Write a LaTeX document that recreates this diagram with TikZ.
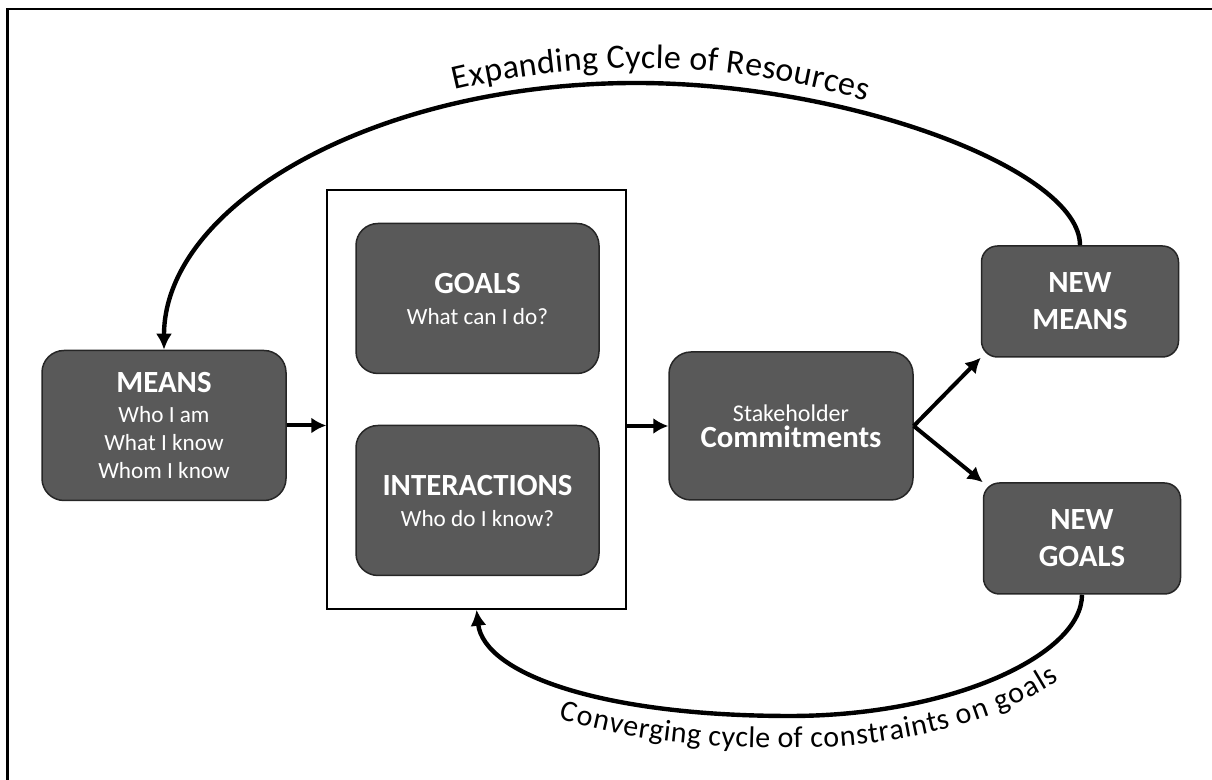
\documentclass[tikz,border=0pt]{standalone}
\usepackage{fontspec}
\setmainfont{Carlito}
\usetikzlibrary{arrows.meta,decorations.text}
\definecolor{boxgray}{HTML}{595959}
\definecolor{boxline}{HTML}{262626}
\newcommand{\boxtitle}[1]{{\fontsize{15.4}{18.5}\selectfont\bfseries #1}}
\newcommand{\arcfont}{\fontsize{17}{20}\selectfont}
\newcommand{\lowarcfont}{\fontsize{15}{18}\selectfont}
\tikzset{
  darkbox/.style={draw=boxline, line width=0.75pt, fill=boxgray, text=white,
    rounded corners=11pt, align=center, inner sep=0pt,
    minimum width=122pt, minimum height=75pt, font=\fontsize{11.6}{14}\selectfont},
  newbox/.style={darkbox, rounded corners=8pt, minimum width=98.5pt,
    minimum height=55.5pt, font=\fontsize{15.4}{18.5}\selectfont\bfseries},
  link/.style={line width=2pt, -{Latex[length=7.5pt,width=8pt]}},
  loopline/.style={line width=2.2pt, -{Latex[length=8pt,width=8pt]}},
}
\begin{document}
\begin{tikzpicture}[x=0.5pt,y=0.5pt]
  \useasboundingbox (0,0) rectangle (1212,780);
  \draw[line width=1.25pt] (7.5,0) |- (1212,771);

  \node[draw, line width=0.75pt, inner sep=0pt, minimum width=149.5pt,
    minimum height=209.5pt] (frame) at (476.5,380.5) {};

  \node[darkbox] (means) at (164,354.5)
    {\boxtitle{MEANS}\\[1pt] Who I am\\ What I know\\ Whom I know};
  \node[darkbox, minimum width=121.5pt] (goals) at (477.5,481.5)
    {\boxtitle{GOALS}\\[1.5pt] What can I do?};
  \node[darkbox, minimum width=121.5pt] (inter) at (477.5,279.5)
    {\boxtitle{INTERACTIONS}\\[1.5pt] Who do I know?};
  \node[darkbox, minimum height=74pt, font=\fontsize{12}{13}\selectfont] (commit) at (791,354)
    {Stakeholder\\ \boxtitle{Commitments}};
  \node[newbox] (newmeans) at (1080,478.5) {NEW\\MEANS};
  \node[newbox] (newgoals) at (1082,241.5) {NEW\\GOALS};

  \draw[link] (means.east) -- (means.east -| frame.west);
  \draw[link] (frame.east |- commit.west) -- (commit.west);
  \draw[link] (commit.east) -- (newmeans.south west);
  \draw[link] (commit.east) -- (newgoals.north west);

  \draw[loopline] (newmeans.north) .. controls (1080,610) and (850,697) .. (636,697)
    .. controls (376,697) and (164,576) .. (means.north);
  \draw[loopline] (newgoals.south) .. controls (1082,125) and (951,64) .. (790,64)
    .. controls (602,64) and (484,106) .. (frame.south);

  \path[decorate, decoration={text along path, text align=center, raise=7.5pt,
    text={|\arcfont|Expanding Cycle of Resources}}]
    (640,-84) ++(118.5:781) arc (118.5:58.5:781);
  \path[decorate, decoration={text along path, text align={right, right indent=37pt},
    raise=-16pt, text={|\lowarcfont|Converging cycle of constraints on goals}}]
    (frame.south) .. controls (484,106) and (602,64) .. (790,64)
    .. controls (951,64) and (1082,125) .. (newgoals.south);
\end{tikzpicture}
\end{document}
